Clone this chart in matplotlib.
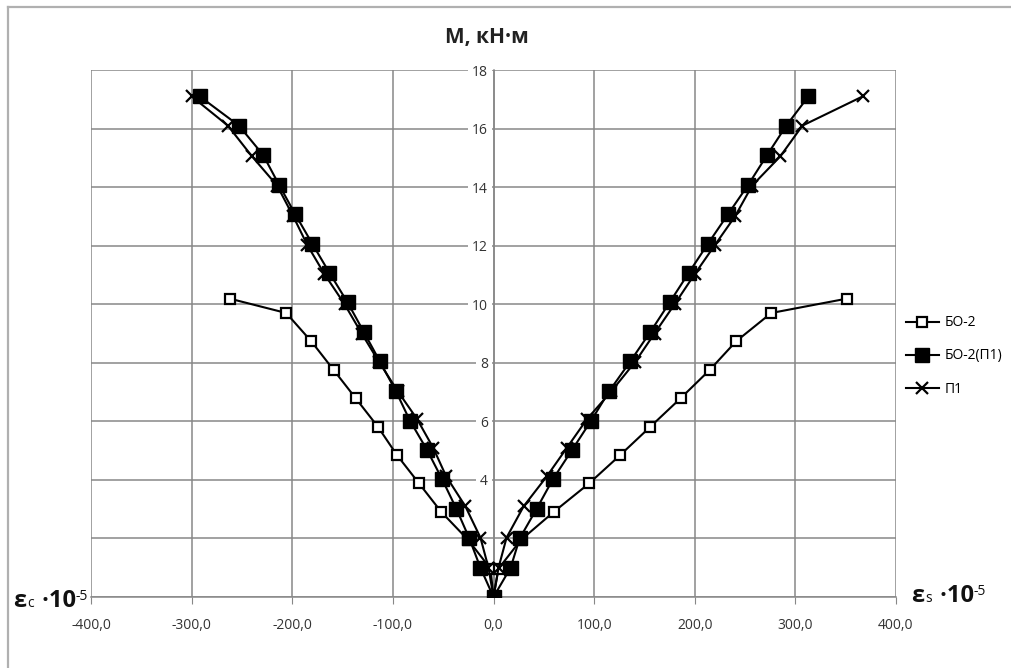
import matplotlib
matplotlib.use("Agg")
import matplotlib.pyplot as plt
from matplotlib.lines import Line2D
from matplotlib.offsetbox import TextArea, HPacker, AnnotationBbox

plt.rcParams['font.family'] = ['Open Sans', 'DejaVu Sans']

# moment, kN*m (left branch: concrete, right branch: steel)
bo2_y = [10.19, 9.70, 8.73, 7.76, 6.79, 5.82, 4.85, 3.88, 2.91, 1.94, 0.97, 0,
         0.97, 1.94, 2.91, 3.88, 4.85, 5.82, 6.79, 7.76, 8.73, 9.70, 10.19]
bo2_x = [-262, -206, -181, -159, -137, -115, -96, -74, -52, -25, -3, 0,
         5, 27, 60, 95, 126, 156, 186, 215, 241, 276, 351]

bo2p1_y = [17.1, 16.1, 15.1, 14.07, 13.07, 12.06, 11.07, 10.06, 9.06, 8.05, 7.03, 6.02,
           5.02, 4.02, 3.02, 2.0, 1.0, 0,
           1.0, 2.0, 3.02, 4.02, 5.02, 6.02, 7.03, 8.05, 9.06, 10.06, 11.07, 12.06,
           13.07, 14.07, 15.1, 16.1, 17.1]
bo2p1_x = [-292, -253, -229, -213, -197, -180, -163, -145, -129, -113, -97, -83,
           -66, -51, -37, -24, -13, 0,
           17, 26, 43, 59, 78, 97, 115, 136, 156, 175, 194, 213,
           233, 253, 272, 291, 313]

p1_y = [17.1, 16.1, 15.05, 14.05, 13.0, 12.02, 11.03, 10.0, 9.0, 8.04, 7.02, 6.08,
        5.1, 4.12, 3.1, 2.03, 1.0, 0,
        1.0, 2.03, 3.1, 4.12, 5.1, 6.08, 7.02, 8.04, 9.0, 10.0, 11.03, 12.02,
        13.0, 14.05, 15.05, 16.1, 17.1]
p1_x = [-300, -264, -240, -215, -199, -185, -168, -148, -131, -114, -95, -76,
        -60, -47, -28, -13, -5, 0,
        5, 13, 30, 53, 73, 93, 117, 141, 160, 180, 200, 220,
        240, 257, 285, 307, 367]

x_ticks = [-400, -300, -200, -100, 0, 100, 200, 300, 400]
y_ticks = [0, 2, 4, 6, 8, 10, 12, 14, 16, 18]

grid_col = '#878787'

fig = plt.figure(figsize=(10.11, 6.68), dpi=100)
# chart frame: only top and left edges fall inside the image
fig.add_artist(Line2D([8 / 1011, 1], [1 - 7 / 668, 1 - 7 / 668],
                      transform=fig.transFigure, color='#b0b0b0', lw=1.6))
fig.add_artist(Line2D([8 / 1011, 8 / 1011], [0, 1 - 7 / 668],
                      transform=fig.transFigure, color='#b0b0b0', lw=1.6))

ax = fig.add_axes([91 / 1011, 71 / 668, 805 / 1011, 527 / 668])
ax.set_xlim(-400, 400)
ax.set_ylim(0, 18)

ax.plot(bo2_x, bo2_y, color='black', lw=1.5, marker='s', ms=7.5,
        mfc='white', mec='black', mew=1.6, label='БО-2', zorder=3)
ax.plot(bo2p1_x, bo2p1_y, color='black', lw=1.5, marker='s', ms=9.5,
        mfc='black', mec='black', label='БО-2(П1)', zorder=4)
ax.plot(p1_x, p1_y, color='black', lw=1.5, marker='x', ms=9,
        mew=1.6, label='П1', zorder=5)

ax.set_xticks(x_ticks)
ax.set_xticklabels([f"{v:.1f}".replace('.', ',') for v in x_ticks])
ax.set_yticks(y_ticks)
ax.set_yticklabels(['' if v < 4 else str(v) for v in y_ticks])
ax.grid(True, color=grid_col, lw=1.1, zorder=0)
ax.set_axisbelow(True)

for s in ['top', 'right']:
    ax.spines[s].set_visible(False)
ax.spines['left'].set_position(('data', 0))
ax.spines['left'].set_color(grid_col)
ax.spines['bottom'].set_color(grid_col)
ax.spines['left'].set_linewidth(1.1)
ax.spines['bottom'].set_linewidth(1.1)

ax.tick_params(axis='x', direction='out', length=5, color=grid_col,
               labelsize=10, pad=10, labelcolor='#333333')
ax.tick_params(axis='y', length=0, labelsize=10, pad=4, labelcolor='#333333')
for lbl in ax.get_yticklabels():
    lbl.set_bbox(dict(facecolor='white', edgecolor='none', pad=3))

fig.text(487 / 1011, 1 - 38 / 668, 'M, кН·м', ha='center', va='center',
         fontsize=15, fontweight='bold', color='#222222')


def strain_label(sub, x, y):
    big = dict(fontsize=17, fontweight='bold', color='#111111')
    small = dict(fontsize=10, color='#111111')
    parts = [TextArea('ε', textprops=big), TextArea(sub, textprops=small),
             TextArea(' ·10', textprops=big)]
    base = HPacker(children=parts, align='baseline', pad=0, sep=1)
    sup = TextArea('-5', textprops=small)
    box = HPacker(children=[base, sup], align='top', pad=0, sep=0)
    ab = AnnotationBbox(box, (x, y), xycoords='figure pixels', frameon=False,
                        box_alignment=(0, 0.5))
    fig.add_artist(ab)


strain_label('c', 13, 668 - 601)
strain_label('s', 911, 668 - 596)

fig.legend(loc='center left', bbox_to_anchor=(893 / 1011, 1 - 356 / 668),
           frameon=False, fontsize=10, handlelength=2.4, handletextpad=0.4,
           labelspacing=1.3)

fig.savefig('out.png', dpi=100)
